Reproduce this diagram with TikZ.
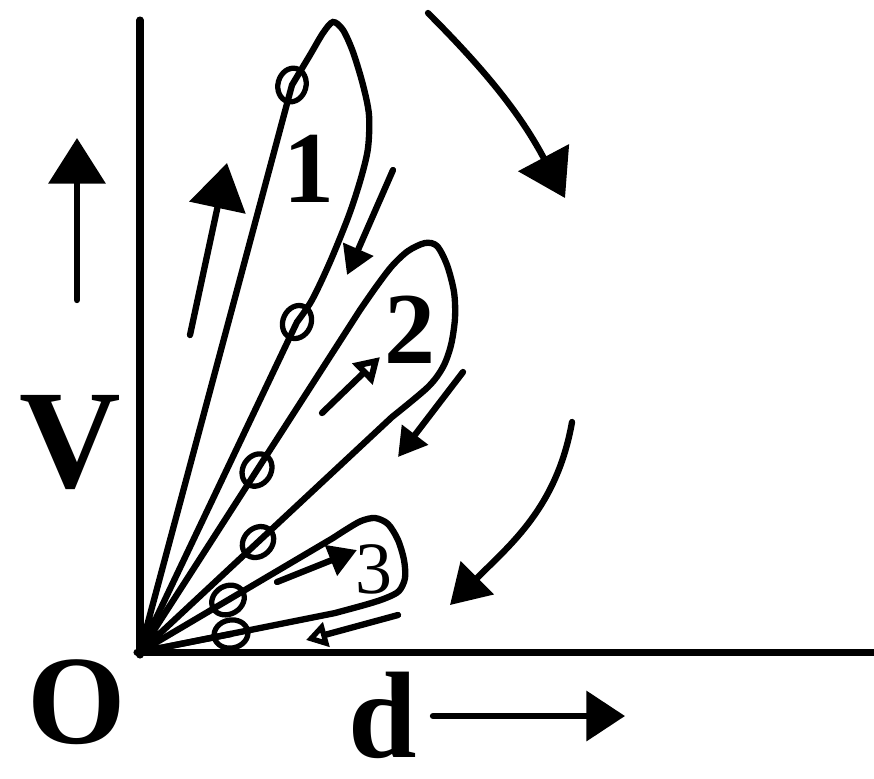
\documentclass[tikz,border=0pt]{standalone}
\usepackage{fontspec}
\setmainfont{Liberation Serif}
\usetikzlibrary{arrows.meta, shapes.geometric}

\begin{document}
\begin{tikzpicture}[x=0.01cm, y=-0.01cm, line width=1.8pt, line cap=round,
        >={Triangle[width=9pt,length=8pt]},
        bigarr/.style={-{Triangle[width=16pt,length=13pt]}},
        openarr/.style={-{Triangle[open,width=7pt,length=6pt]}},
        ring/.style={draw, ellipse, minimum width=0.28cm, minimum height=0.34cm, inner sep=0pt, line width=1.5pt},
        lbl/.style={font=\fontsize{40}{40}\selectfont\bfseries, inner sep=0pt}]
    \useasboundingbox (0,0) rectangle (874,778);

    % axes
    \coordinate (o) at (140,652);
    \coordinate (vtop) at (140,20);
    \coordinate (dend) at (874,652);
    \draw[line width=2pt] (vtop) -- (140,655);
    \draw[line width=2pt] (137,652) -- (dend);

    \node[lbl] (vlab) at (70,442) {V};
    \node[lbl, font=\fontsize{36}{36}\selectfont\bfseries] (olab) at (77,702) {O};
    \node[lbl, font=\fontsize{35}{35}\selectfont\bfseries] (dlab) at (383,715) {d};

    \coordinate (va) at (77,300);
    \coordinate (vb) at (77,138);
    \draw[bigarr] (va) -- (vb);
    \coordinate (da) at (433,716);
    \coordinate (db) at (625,716);
    \draw[-{Triangle[width=14pt,length=11pt]}] (da) -- (db);

    % loop 1
    \draw (o) -- plot[smooth] coordinates {(292,85) (310,55) (323,33) (333,22) (343,30) (353,52)
        (363,85) (369,115) (368,148) (361,178) (349,215) (330,262) (312,300) (297,322)} -- (o);
    % loop 2
    \draw (o) -- plot[smooth] coordinates {(360,310) (376,287) (392,266) (408,251) (425,243) (437,246)
        (447,265) (454,292) (455,318) (451,345) (443,367) (428,387) (392,417)} -- (o);
    % loop 3
    \draw (o) -- plot[smooth] coordinates {(333,538) (347,529) (361,521) (375,518) (388,524) (398,540)
        (404,560) (405,578) (399,591) (386,598) (368,604) (335,613)} -- (o);
    \draw (o) -- (231,634);

    % rings on the rays
    \node[ring, rotate=-15] (c1) at (292,85) {};
    \node[ring, rotate=-25] (c2) at (297,322) {};
    \node[ring, rotate=-33] (c3) at (257,470) {};
    \node[ring, rotate=-47] (c4) at (258,542) {};
    \node[ring, rotate=-59] (c5) at (228,600) {};
    \node[ring, rotate=-79] (c6) at (231,634) {};

    \node[font=\fontsize{29}{29}\selectfont\bfseries, inner sep=0pt] (l1) at (309,169) {1};
    \node[font=\fontsize{29}{29}\selectfont\bfseries, inner sep=0pt] (l2) at (410,330) {2};
    \node[font=\fontsize{21}{21}\selectfont, inner sep=0pt] (l3) at (374,569) {3};

    % small arrows along the loops
    \coordinate (a1) at (190,335);
    \coordinate (b1) at (227,163);
    \draw[bigarr] (a1) -- (b1);
    \coordinate (a2) at (393,170);
    \coordinate (b2) at (347,275);
    \draw[->] (a2) -- (b2);
    \coordinate (a3) at (322,413);
    \coordinate (b3) at (380,357);
    \draw[-{Triangle[open,width=8pt,length=7pt]}] (a3) -- (b3);
    \coordinate (a4) at (463,372);
    \coordinate (b4) at (398,457);
    \draw[->] (a4) -- (b4);
    \coordinate (a5) at (277,582);
    \coordinate (b5) at (357,550);
    \draw[->] (a5) -- (b5);
    \coordinate (a6) at (398,615);
    \coordinate (b6) at (306,640);
    \draw[openarr] (a6) -- (b6);

    % big curved arrows
    \coordinate (t1) at (428,13);
    \coordinate (t2) at (565,198);
    \draw[bigarr] (t1) to[out=-45, in=118] (t2);
    \coordinate (s1) at (572,422);
    \coordinate (s2) at (450,605);
    \draw[-{Triangle[width=13pt,length=11pt]}] (s1) to[out=-100, in=45] (s2);
\end{tikzpicture}
\end{document}
